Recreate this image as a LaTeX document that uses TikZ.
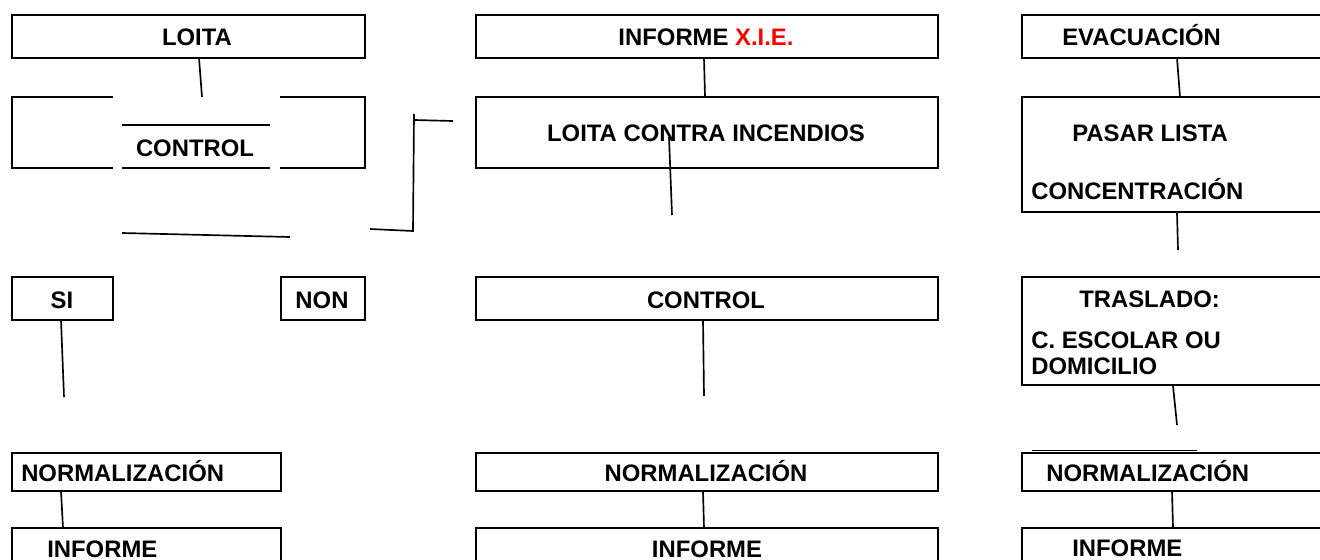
\documentclass[tikz,border=0pt]{standalone}
\usepackage{fontspec}
\setmainfont{Liberation Sans}
\begin{document}
\begin{tikzpicture}[x=0.75pt,y=-0.75pt,
  box/.style={draw,line width=2.2pt,rectangle,inner sep=0pt,outer sep=0pt},
  frame/.style={line width=2.2pt,line join=miter},
  lbl/.style={inner sep=0pt,font=\fontsize{17.9pt}{20pt}\selectfont\bfseries,anchor=base},
  lblw/.style={lbl,anchor=base west},
  link/.style={line width=1.25pt}]
\useasboundingbox (0,0) rectangle (1320,560);
\clip (0,0) rectangle (1320,560);
\fill[white] (0,0) rectangle (1320,560);
% helper: box from corners
\newcommand{\mybox}[5]{\node[box,minimum width={(#4-#2)*0.75pt},minimum height={(#5-#3)*0.75pt}] (#1) at ({(#2+#4)/2},{(#3+#5)/2}) {};}
% left column
\mybox{loita}{12}{15}{365}{58}
\node[lbl] (tloita) at (197,46) {LOITA};
\node[inner sep=0pt,outer sep=0pt,minimum width={353*0.75pt},minimum height={71*0.75pt}] (ctrlL) at (188.5,132.5) {};
\draw[frame] (113,97) -- (ctrlL.north west) -- (ctrlL.south west) -- (113,168);
\draw[frame] (280,97) -- (ctrlL.north east) -- (ctrlL.south east) -- (280,168);
\draw[frame] (122,125) -- (270,125);
\draw[frame] (122,168) -- (270,168);
\node[lbl] (tctrlL) at (195,156) {CONTROL};
\mybox{si}{12}{277}{113}{320}
\node[lbl] (tsi) at (62,308) {SI};
\mybox{non}{281}{277}{365}{320}
\node[lbl] (tnon) at (322,308) {NON};
\mybox{normL}{12}{453}{281}{491}
\node[lblw] (tnormL) at (21,481) {NORMALIZACIÓN};
\mybox{infL}{12}{528}{281}{620}
\node[lblw] (tinfL) at (47,557) {INFORME};
% middle column
\mybox{xie}{476}{15}{938}{58}
\node[lbl] (txie) at (706,46) {INFORME \textcolor{red}{X.I.E.}};
\mybox{lci}{476}{97}{938}{168}
\node[lbl] (tlci) at (706,141) {LOITA CONTRA INCENDIOS};
\mybox{ctrlM}{476}{277}{938}{320}
\node[lbl] (tctrlM) at (706,308) {CONTROL};
\mybox{normM}{476}{453}{938}{491}
\node[lbl] (tnormM) at (706,481) {NORMALIZACIÓN};
\mybox{infM}{476}{528}{938}{620}
\node[lbl] (tinfM) at (707,557.5) {INFORME};
% right column
\mybox{evac}{1022}{15}{1340}{58}
\node[lblw] (tevac) at (1062,46) {EVACUACIÓN};
\mybox{pasar}{1022}{97}{1340}{212}
\node[lblw] (tpasar) at (1072,141) {PASAR LISTA};
\node[lblw] (tconc) at (1031,199) {CONCENTRACIÓN};
\mybox{tras}{1022}{277}{1340}{385}
\node[lblw] (ttras) at (1079,307) {TRASLADO:};
\node[lblw] (tesc) at (1031,348) {C. ESCOLAR OU};
\node[lblw] (tdom) at (1031,374) {DOMICILIO};
\mybox{normR}{1022}{453}{1340}{491}
\node[lblw] (tnormR) at (1046,481) {NORMALIZACIÓN};
\mybox{infR}{1022}{528}{1340}{620}
\node[lblw] (tinfR) at (1072,556) {INFORME};
% coordinates for free ends
\coordinate (c1) at (202,97);
\coordinate (c2a) at (122,233);
\coordinate (c2b) at (290,237);
\coordinate (b1) at (370,229);
\coordinate (b2) at (413,231);
\coordinate (b3) at (414,114);
\coordinate (b4) at (414,120);
\coordinate (b5) at (453,121);
\coordinate (m1) at (669,137);
\coordinate (m2) at (672,215);
\coordinate (r1) at (1177,213);
\coordinate (r2) at (1178,250);
\coordinate (r3) at (1173,386);
\coordinate (r4) at (1177,425);
\coordinate (r5) at (1032,450.5);
\coordinate (r6) at (1197,450.5);
\coordinate (s1) at (64,397);
\coordinate (cm1) at (704,396);
% connectors
\draw[link] (loita.south -| 199,0) -- (c1);
\draw[link] (c2a) -- (c2b);
\draw[link] (b1) -- (b2) -- (b3);
\draw[link] (b4) -- (b5);
\draw[link] (xie.south -| 704,0) -- (lci.north -| 705,0);
\draw[link] (m1) -- (m2);
\draw[link] (evac.south -| 1177,0) -- (pasar.north -| 1180,0);
\draw[link] (r1) -- (r2);
\draw[link] (si.south -| 61,0) -- (s1);
\draw[link] (ctrlM.south -| 703,0) -- (cm1);
\draw[link] (r3) -- (r4);
\draw[link] (r5) -- (r6);
\draw[link] (normL.south -| 61,0) -- (infL.north -| 63,0);
\draw[link] (normM.south -| 703,0) -- (infM.north -| 704,0);
\draw[link] (normR.south -| 1172,0) -- (infR.north -| 1173,0);
\end{tikzpicture}
\end{document}
